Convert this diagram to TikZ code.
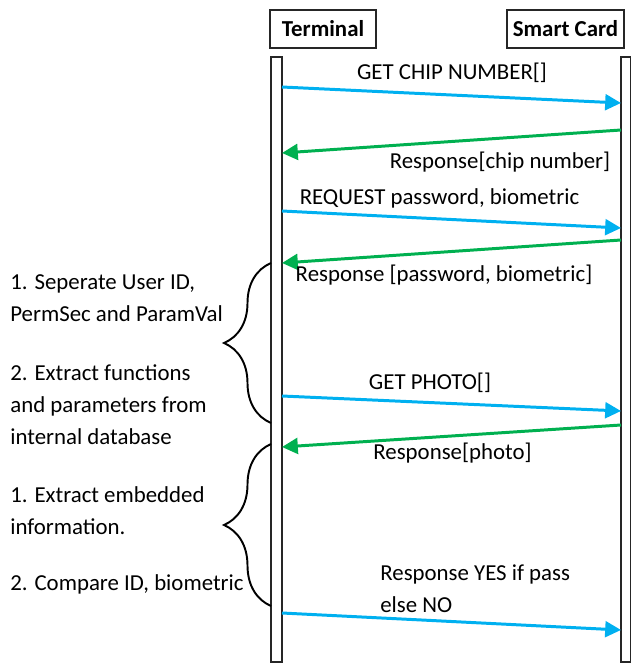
\documentclass[tikz,border=0pt]{standalone}
\usepackage{fontspec}
\setmainfont{Carlito}
\usepackage{tikz}
\usetikzlibrary{positioning, arrows.meta, decorations.pathreplacing, calc}
\definecolor{reqblue}{RGB}{0,176,240}
\definecolor{respgreen}{RGB}{0,176,80}
\tikzstyle{actor} = [rectangle, draw=black!85, line width=1.1pt, minimum height=0.76cm, font=\fontsize{13}{18}\selectfont\bfseries, inner sep=2pt]
\tikzstyle{lifeline} = [rectangle, draw=black!85, line width=1.1pt, minimum height=12.1cm, inner sep=0pt]
\tikzstyle{request} = [line width=1.7pt, draw=reqblue, -{Triangle[length=9pt,width=9pt]}]
\tikzstyle{response} = [line width=1.7pt, draw=respgreen, -{Triangle[length=9pt,width=9pt]}]
\tikzstyle{msgtext} = [inner sep=0pt, align=left]
\tikzstyle{note} = [anchor=west, align=left, inner sep=0pt]
\tikzstyle{steps} = [decorate, decoration={brace, amplitude=0.94cm}, line width=1.1pt]

\begin{document}
\begin{tikzpicture}[font=\fontsize{13}{18.2}\selectfont]
        \useasboundingbox (0,0) rectangle (12.6,-13.28);
        \node (terminal) [actor, minimum width=2.12cm] at (6.46,-0.58) {Terminal};
        \node (card) [actor, minimum width=2.34cm] at (11.31,-0.58) {Smart Card};
        \node (termbar) [lifeline, minimum width=0.22cm] at (5.53,-7.19) {};
        \node (cardbar) [lifeline, minimum width=0.2cm] at (12.52,-7.19) {};

        % message end points on the lifelines
        \coordinate (t1) at (5.64,-1.74);  \coordinate (c1) at (12.42,-2.06);
        \coordinate (c2) at (12.42,-2.60); \coordinate (t2) at (5.64,-3.06);
        \coordinate (t3) at (5.64,-4.22);  \coordinate (c3) at (12.42,-4.56);
        \coordinate (c4) at (12.42,-4.80); \coordinate (t4) at (5.64,-5.26);
        \coordinate (t5) at (5.64,-7.92);  \coordinate (c5) at (12.42,-8.22);
        \coordinate (c6) at (12.42,-8.50); \coordinate (t6) at (5.64,-8.94);
        \coordinate (t7) at (5.64,-12.26); \coordinate (c7) at (12.42,-12.60);

        \draw [request] (t1) -- (c1);
        \draw [response] (c2) -- (t2);
        \draw [request] (t3) -- (c3);
        \draw [response] (c4) -- (t4);
        \draw [request] (t5) -- (c5);
        \draw [response] (c6) -- (t6);
        \draw [request] (t7) -- (c7);

        \node (getchip) [msgtext] at (9.04,-1.46) {GET CHIP NUMBER[]};
        \node (respchip) [msgtext] at (10.0,-3.24) {Response[chip number]};
        \node (reqpass) [msgtext] at (8.79,-3.96) {REQUEST password, biometric};
        \node (resppass) [msgtext] at (8.88,-5.50) {Response [password, biometric]};
        \node (getphoto) [msgtext] at (8.60,-7.66) {GET PHOTO[]};
        \node (respphoto) [msgtext] at (9.05,-9.06) {Response[photo]};
        \node (respyes) [msgtext, anchor=west] at (7.60,-11.78) {Response YES if pass\\else NO};

        % processing steps at the terminal
        \draw [steps] (5.42,-8.46) -- (5.42,-5.26);
        \draw [steps] (5.42,-12.12) -- (5.42,-8.88);
        \node (separate) [note] at (0.2,-5.96) {1. Seperate User ID,\\PermSec and ParamVal};
        \node (extractfn) [note] at (0.2,-8.10) {2. Extract functions\\and parameters from\\internal database};
        \node (extractinfo) [note] at (0.2,-10.21) {1. Extract embedded\\information.};
        \node (compare) [note] at (0.2,-11.68) {2. Compare ID, biometric};
\end{tikzpicture}
\end{document}
